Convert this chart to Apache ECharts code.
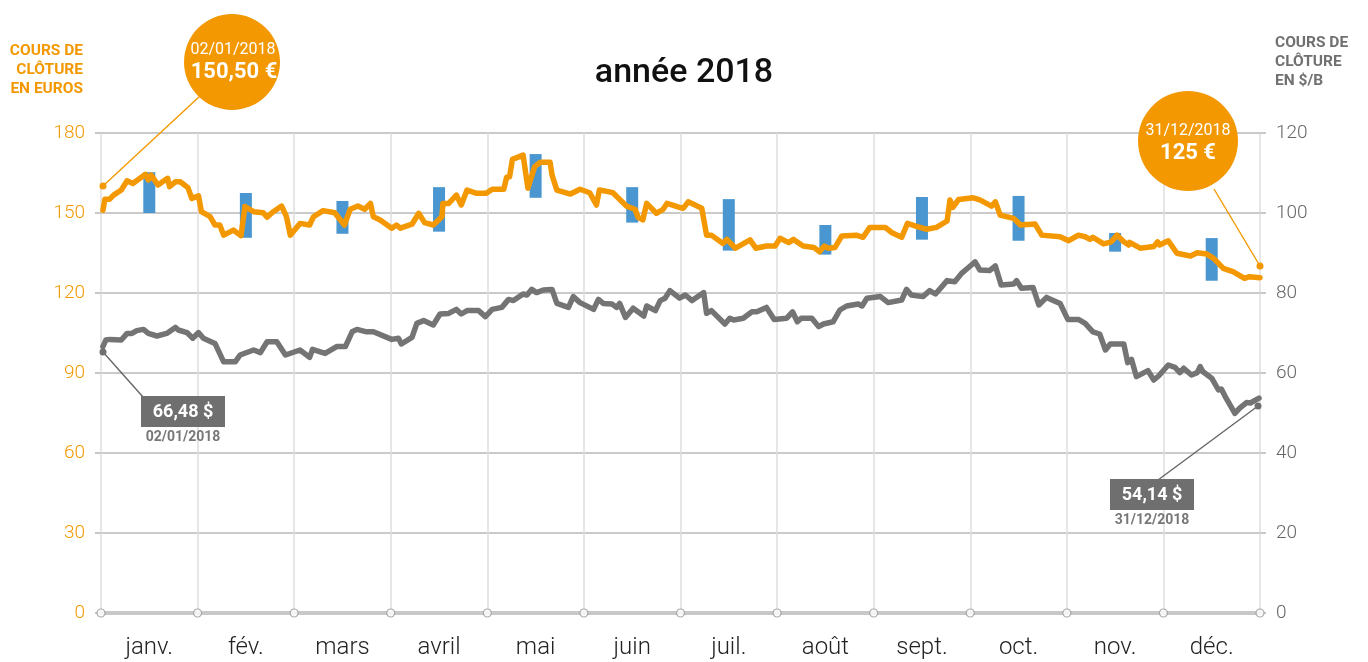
<!DOCTYPE html>
<html>
<head>
<meta charset="utf-8">
<script src="https://cdn.jsdelivr.net/npm/echarts@6/dist/echarts.min.js"></script>
<style>
html, body { margin: 0; padding: 0; background: #fff; }
#chart { width: 1368px; height: 662px; }
</style>
</head>
<body>
<div id="chart"></div>
<script>
// mois (axe des x) et bornes des mois
var months = ['janv.', 'fév.', 'mars', 'avril', 'mai', 'juin', 'juil.', 'août', 'sept.', 'oct.', 'nov.', 'déc.'];
var monthEdges = [0, 1, 2, 3, 4, 5, 6, 7, 8, 9, 10, 11, 12];

// barres bleues : fourchette mensuelle (euros)
var barMid  = [0.5, 1.5, 2.5, 3.5, 4.5, 5.5, 6.5, 7.5, 8.5, 9.5, 10.5, 11.5];
var barLow  = [150, 140.7, 142.2, 143, 155.7, 146.4, 135.9, 134.4, 140, 139.6, 135.5, 124.6];
var barHigh = [165.3, 157.5, 154.5, 159.7, 172.1, 159.7, 155.2, 145.5, 156, 156.4, 142.5, 140.6];

// cours de clôture en euros [position en mois, valeur]
var euroLine = [
  [0.02,151],[0.04,155.2],[0.09,155.2],[0.13,156.7],[0.21,158.6],[0.27,162.1],[0.33,161.1],[0.46,164.5],
  [0.49,162.4],[0.52,164.2],[0.59,160.5],[0.69,163],[0.71,159.9],[0.77,161.7],[0.82,161.7],[0.90,159.5],
  [0.94,155.5],[1.01,156.4],[1.04,150.5],[1.13,148.6],[1.18,145.5],[1.23,145.5],[1.27,141.7],[1.37,143.6],
  [1.45,141.5],[1.49,152.4],[1.58,150.5],[1.68,150.1],[1.72,148.4],[1.77,150.1],[1.87,152.6],[1.92,148.6],
  [1.96,141.7],[2.06,146.1],[2.16,145.5],[2.20,148.6],[2.30,150.9],[2.42,150.1],[2.52,145.5],[2.58,151.4],
  [2.66,152.6],[2.73,151.4],[2.79,153.6],[2.82,148.6],[2.89,147.4],[3.01,144.3],[3.06,145.5],[3.10,144.3],
  [3.22,145.8],[3.29,149.9],[3.35,146.4],[3.44,145.5],[3.53,148.6],[3.54,153.6],[3.60,153.6],[3.68,156.7],
  [3.73,153],[3.79,158.6],[3.89,157.4],[3.99,157.4],[4.05,158.9],[4.17,158.9],[4.20,163.4],[4.23,163.6],
  [4.26,170.1],[4.37,171.7],[4.42,159.3],[4.49,167.4],[4.55,169],[4.65,169],[4.67,164.2],[4.72,158.6],
  [4.86,157.1],[4.96,158.9],[5.06,157.6],[5.13,153],[5.16,158.6],[5.25,158],[5.30,157.6],[5.44,152.6],
  [5.53,151.4],[5.56,148.4],[5.61,147.4],[5.65,153.6],[5.75,149.9],[5.82,151.4],[5.86,153.6],[5.99,152.1],
  [6.03,151.8],[6.08,154.2],[6.22,151.8],[6.27,141.7],[6.32,141.7],[6.44,138.6],[6.48,140.1],[6.57,136.8],
  [6.72,139.9],[6.78,136.8],[6.89,137.6],[6.98,137.6],[7.03,140.5],[7.12,138.9],[7.17,140.1],[7.27,137.6],
  [7.38,137.1],[7.44,135.5],[7.49,137.6],[7.53,136.8],[7.60,137.1],[7.67,141.4],[7.82,141.7],[7.89,140.9],
  [7.96,144.6],[8.12,144.6],[8.19,142.6],[8.29,140.9],[8.35,146.1],[8.45,144.9],[8.55,143.9],[8.65,144.6],
  [8.76,147],[8.79,154.9],[8.82,152.1],[8.88,155.1],[9.03,155.7],[9.10,154.9],[9.22,152.6],[9.26,154.2],
  [9.31,149.2],[9.45,148],[9.52,145.5],[9.67,145.9],[9.74,141.7],[9.93,141.1],[10.02,139.6],[10.12,141.7],
  [10.19,141.1],[10.24,140.1],[10.27,140.9],[10.38,138.4],[10.46,139.2],[10.52,141.7],[10.59,139.2],[10.64,138],
  [10.65,139],[10.76,136.8],[10.90,137.4],[10.94,139.2],[10.96,138],[11.05,139.6],[11.14,134.9],[11.28,133.9],
  [11.35,135.1],[11.45,134.6],[11.52,133],[11.62,129.2],[11.72,128],[11.84,125.5],[11.89,126.1],[12.0,125.7]
];

// cours du baril en $ [position en mois, valeur]
var brentLine = [
  [0.02,66.6],[0.05,68.25],[0.09,68.4],[0.21,68.25],[0.27,69.9],[0.32,69.9],[0.37,70.6],[0.44,70.9],
  [0.49,69.9],[0.58,69.25],[0.68,69.9],[0.77,71.4],[0.80,70.75],[0.89,70.1],[0.95,68.7],[1.01,70.1],
  [1.06,68.7],[1.18,67.4],[1.27,62.8],[1.39,62.8],[1.44,64.5],[1.58,65.75],[1.65,65.1],[1.72,67.8],
  [1.82,67.8],[1.91,64.5],[2.06,65.75],[2.16,63.9],[2.19,65.9],[2.32,64.9],[2.44,66.6],[2.53,66.6],
  [2.60,70.3],[2.65,70.9],[2.75,70.3],[2.82,70.3],[3.01,68.4],[3.08,68.7],[3.11,67.25],[3.22,68.9],
  [3.27,72.4],[3.34,73.1],[3.44,72],[3.51,74.75],[3.60,74.9],[3.68,75.9],[3.73,74.75],[3.79,75.6],
  [3.91,75.6],[3.98,74.1],[4.05,75.9],[4.15,76.4],[4.22,78.4],[4.27,78.1],[4.37,79.75],[4.41,79.5],
  [4.46,80.9],[4.51,80.1],[4.58,80.75],[4.67,80.9],[4.72,77.4],[4.84,76.4],[4.89,79.1],[4.96,77.6],
  [5.10,75.9],[5.15,78.4],[5.20,77.4],[5.29,77.25],[5.34,76.4],[5.37,77.4],[5.43,73.9],[5.51,76.2],
  [5.62,74.25],[5.65,76.75],[5.74,75.6],[5.79,78.1],[5.84,78.7],[5.89,80.6],[5.99,78.7],[6.05,79.5],
  [6.12,78.1],[6.24,80.1],[6.27,74.9],[6.32,75.6],[6.46,72.25],[6.51,73.7],[6.55,73.25],[6.65,73.7],
  [6.74,75.3],[6.79,75.3],[6.89,76.4],[6.97,73.4],[7.10,73.7],[7.16,75.3],[7.21,72.8],[7.25,73.7],
  [7.36,73.7],[7.43,71.6],[7.48,72.25],[7.58,72.8],[7.65,75.75],[7.72,76.75],[7.84,77.25],[7.88,76.75],
  [7.93,78.7],[8.07,79.1],[8.15,77.6],[8.29,78.25],[8.34,80.9],[8.39,79.5],[8.51,79.1],[8.58,80.6],
  [8.64,79.75],[8.76,83.1],[8.84,82.8],[8.91,84.9],[9.00,86.75],[9.05,87.8],[9.10,85.75],[9.20,85.6],
  [9.26,86.75],[9.32,82],[9.45,82.25],[9.48,83.1],[9.53,81.2],[9.65,81.4],[9.71,77],[9.79,78.9],
  [9.93,77.4],[10.01,73.4],[10.12,73.4],[10.19,72.4],[10.27,70.3],[10.34,69.75],[10.40,65.75],[10.45,67.25],
  [10.59,67.25],[10.63,62.6],[10.67,63.4],[10.72,59.1],[10.84,60.6],[10.90,58.25],[10.95,59.25],[11.05,62],
  [11.12,61.4],[11.17,60.1],[11.21,61.2],[11.29,59.5],[11.35,60.1],[11.38,61.6],[11.41,60.3],[11.50,58.7],
  [11.57,55.75],[11.60,56],[11.64,54.1],[11.74,49.9],[11.79,51.2],[11.86,52.6],[11.90,52.5],[11.99,53.7]
];

var ORANGE = '#f39800';
var GRIS = '#6f6f6f';
var BLEU = '#4a96d0';
var FONT = 'Roboto, "Liberation Sans", sans-serif';

var chart = echarts.init(document.getElementById('chart'));

function txt(text, x, y, size, weight, color, align) {
    return {
        type: 'text', z: 100,
        style: { text: text, x: x, y: y, fill: color, fontSize: size, fontWeight: weight,
                 fontFamily: FONT, align: align || 'center', verticalAlign: 'middle', lineHeight: 19 }
    };
}
function seg(x1, y1, x2, y2, color) {
    return { type: 'line', z: 99, shape: { x1: x1, y1: y1, x2: x2, y2: y2 }, style: { stroke: color, lineWidth: 1.4 } };
}
function dot(x, y, r, color) {
    return { type: 'circle', z: 100, shape: { cx: x, cy: y, r: r }, style: { fill: color } };
}

var option = {
    animation: false,
    title: {
        text: 'année 2018',
        left: 'center',
        top: 51,
        textStyle: { fontSize: 34, fontWeight: 500, color: '#111', fontFamily: FONT }
    },
    grid: { left: 101, right: 108, top: 133, bottom: 49 },
    xAxis: [
        {
            type: 'value', min: 0, max: 12, interval: 1,
            axisLabel: { show: false },
            axisTick: { show: false },
            axisLine: { show: true, lineStyle: { color: '#c8c8c8', width: 4 } },
            splitLine: { show: true, lineStyle: { color: '#dedede', width: 1.5 } }
        },
        {
            type: 'category', data: months, position: 'bottom', boundaryGap: true,
            axisLine: { show: false },
            axisTick: { show: false },
            splitLine: { show: false },
            axisLabel: { margin: 23, fontSize: 24, color: '#222', fontFamily: FONT, fontWeight: 300 }
        }
    ],
    yAxis: [
        {
            type: 'value', min: 0, max: 180, interval: 30, position: 'left',
            axisLine: { show: false },
            axisTick: { show: true, length: 6, lineStyle: { color: '#c8c8c8', width: 2 } },
            splitLine: { show: true, lineStyle: { color: '#cacaca', width: 2 } },
            axisLabel: { color: ORANGE, fontSize: 19, margin: 16, fontFamily: FONT, fontWeight: 300 }
        },
        {
            type: 'value', min: 0, max: 120, interval: 20, position: 'right',
            axisLine: { show: false },
            axisTick: { show: true, length: 6, lineStyle: { color: '#c8c8c8', width: 2 } },
            splitLine: { show: false },
            axisLabel: { color: '#666', fontSize: 19, margin: 16, fontFamily: FONT, fontWeight: 300 }
        }
    ],
    series: [
        {
            name: 'fourchette',
            type: 'custom',
            xAxisIndex: 0, yAxisIndex: 0, z: 2,
            encode: { x: 0, y: [1, 2] },
            data: barMid.map(function (m, i) { return [m, barLow[i], barHigh[i]]; }),
            renderItem: function (params, api) {
                var lo = api.coord([api.value(0), api.value(1)]);
                var hi = api.coord([api.value(0), api.value(2)]);
                return { type: 'rect', shape: { x: lo[0] - 6, y: hi[1], width: 12, height: lo[1] - hi[1] },
                         style: { fill: BLEU } };
            }
        },
        {
            name: 'baril',
            type: 'line', xAxisIndex: 0, yAxisIndex: 1, z: 3,
            showSymbol: false,
            data: brentLine,
            lineStyle: { color: '#747474', width: 5.5, join: 'round', cap: 'round' }
        },
        {
            name: 'euros',
            type: 'line', xAxisIndex: 0, yAxisIndex: 0, z: 4,
            showSymbol: false,
            data: euroLine,
            lineStyle: { color: ORANGE, width: 5.5, join: 'round', cap: 'round' }
        },
        {
            name: 'bornes',
            type: 'scatter', xAxisIndex: 0, yAxisIndex: 0, z: 6, clip: false,
            symbol: 'circle', symbolSize: 8,
            data: monthEdges.map(function (m) { return [m, 0]; }),
            itemStyle: { color: '#fff', borderColor: '#999', borderWidth: 1.2 }
        }
    ],
    graphic: [
        txt('COURS DE\nCLÔTURE\nEN EUROS', 83, 70, 15.5, 'bold', ORANGE, 'right'),
        txt('COURS DE\nCLÔTURE\nEN $/B', 1275, 62, 15.5, 'bold', '#707070', 'left'),

        // bulle 02/01/2018
        seg(103, 186, 200, 96, ORANGE),
        dot(103, 186, 3.5, ORANGE),
        dot(232, 62, 48, ORANGE),
        txt('02/01/2018', 233, 50, 16, 'normal', '#fff'),
        txt('150,50 €', 234, 72, 22, 'bold', '#fff'),

        // bulle 31/12/2018
        seg(1260, 266, 1214, 189, ORANGE),
        dot(1260, 266, 3.5, ORANGE),
        dot(1188, 141, 50, ORANGE),
        txt('31/12/2018', 1188, 131, 16, 'normal', '#fff'),
        txt('125 €', 1188, 153, 22, 'bold', '#fff'),

        // étiquette baril début
        seg(103, 352, 143, 397, '#666'),
        dot(103, 352, 3.5, GRIS),
        { type: 'rect', z: 99, shape: { x: 141, y: 396, width: 84, height: 31 }, style: { fill: GRIS } },
        txt('66,48 $', 183, 412, 18, 'bold', '#fff'),
        txt('02/01/2018', 183, 437, 14, 'bold', '#777'),

        // étiquette baril fin
        seg(1258, 406, 1158, 480, '#666'),
        dot(1258, 406, 3.5, GRIS),
        { type: 'rect', z: 99, shape: { x: 1110, y: 479, width: 84, height: 31 }, style: { fill: GRIS } },
        txt('54,14 $', 1152, 495, 18, 'bold', '#fff'),
        txt('31/12/2018', 1152, 520, 14, 'bold', '#777')
    ]
};

chart.setOption(option);
</script>
</body>
</html>
